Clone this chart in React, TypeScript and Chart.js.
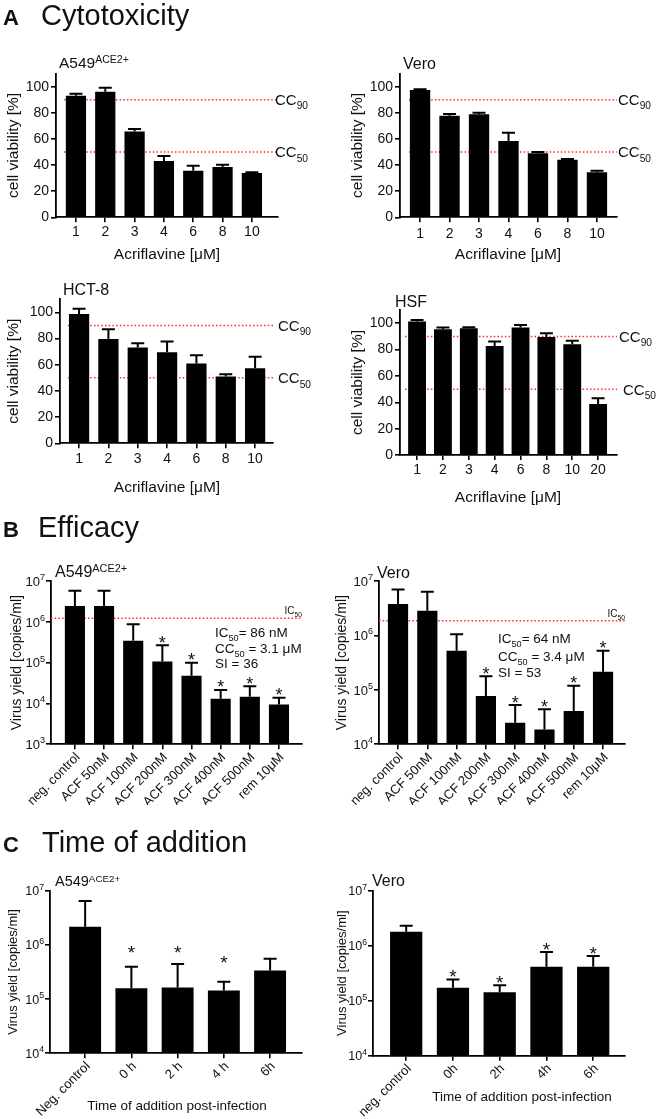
import React, { useEffect, useRef } from "react";
import { Chart, registerables } from "chart.js";

Chart.register(...registerables);

const FONT = '"Liberation Sans", Arial, Helvetica, sans-serif';
const INK = "#111111";
const RED = "#ff2b2b";

type Seg = [string, number]; // 0 normal, 1 subscript, 2 superscript

// ---------- A: Cytotoxicity ----------
const doseLabels = ["1", "2", "3", "4", "6", "8", "10"];
const doseLabelsHSF = ["1", "2", "3", "4", "6", "8", "10", "20"];
const viabTicks = [0, 20, 40, 60, 80, 100];

const viabA549 = [93.1, 96.2, 65.6, 43.1, 35.7, 38.5, 33.9];
const sdA549 = [1.5, 3.0, 2.0, 3.8, 3.8, 1.8, 0.5];
const viabVero = [97.4, 77.8, 78.8, 58.4, 49.0, 44.1, 34.4];
const sdVero = [0.6, 1.2, 1.3, 6.4, 1.0, 0.5, 1.3];
const viabHCT8 = [98.7, 79.6, 73.2, 69.6, 61.0, 51.0, 57.4];
const sdHCT8 = [4.1, 7.6, 3.3, 8.2, 6.3, 1.8, 8.7];
const viabHSF = [101.3, 95.4, 96.2, 82.8, 96.7, 89.6, 84.0, 38.7];
const sdHSF = [1.2, 1.3, 0.8, 3.3, 2.0, 2.8, 2.8, 4.3];
const cc90 = 90;
const cc50 = 50;

// ---------- B: Efficacy ----------
const efficacyLabels = ["neg. control", "ACF 50nM", "ACF 100nM", "ACF 200nM", "ACF 300nM", "ACF 400nM", "ACF 500nM", "rem 10μM"];
const logTicks3to7 = [1e3, 1e4, 1e5, 1e6, 1e7];
const logTicks4to7 = [1e4, 1e5, 1e6, 1e7];

const yieldA549 = [2.44e6, 2.44e6, 3.46e5, 1.06e5, 4.8e4, 1.31e4, 1.47e4, 9.5e3];
const yieldA549Upper = [5.8e6, 5.8e6, 8.7e5, 2.66e5, 1.0e5, 2.14e4, 2.63e4, 1.39e4];
const sigA549 = [false, false, false, true, true, true, true, true];
const ic50A549 = 1.22e6;
const statsA549: Seg[][] = [
  [["IC", 0], ["50", 1], ["= 86 nM", 0]],
  [["CC", 0], ["50", 1], [" = 3.1 μM", 0]],
  [["SI = 36", 0]],
];

const yieldVero = [3.78e6, 2.85e6, 5.25e5, 7.7e4, 2.5e4, 1.88e4, 4.09e4, 2.16e5];
const yieldVeroUpper = [7.0e6, 6.37e6, 1.05e6, 1.77e5, 5.27e4, 4.4e4, 1.19e5, 5.25e5];
const sigVero = [false, false, false, true, true, true, true, true];
const ic50Vero = 1.87e6;
const statsVero: Seg[][] = [
  [["IC", 0], ["50", 1], ["= 64 nM", 0]],
  [["CC", 0], ["50", 1], [" = 3.4 μM", 0]],
  [["SI = 53", 0]],
];

// ---------- C: Time of addition ----------
const timeLabelsA549 = ["Neg. control", "0 h", "2 h", "4 h", "6h"];
const timeYieldA549 = [2.17e6, 1.58e5, 1.63e5, 1.44e5, 3.37e5];
const timeYieldA549Upper = [6.45e6, 3.97e5, 4.44e5, 2.1e5, 5.57e5];
const timeStarsA549 = [null, 8.4e5, 8.4e5, 5.5e5, null];

const timeLabelsVero = ["neg. control", "0h", "2h", "4h", "6h"];
const timeYieldVero = [1.8e6, 1.72e5, 1.42e5, 4.15e5, 4.15e5];
const timeYieldVeroUpper = [2.31e6, 2.44e5, 1.9e5, 7.67e5, 6.49e5];
const sigTimeVero = [false, true, true, true, true];

// ---------- panel descriptions ----------
interface Ref { value: number; label: Seg[]; labelX: number; kind: "cc" | "ic" }
interface Panel {
  box: number[]; plot: number[]; xRange: number[];
  labels: string[]; values: number[]; upper: number[];
  log: boolean; yRange: number[]; yTicks: number[];
  title: Seg[]; titleAt: number[]; titleSize: number;
  yTitle: string; yTitleX: number; yTitleSize: number;
  xTitle?: string; xTitleAt?: number[]; xTitleSize?: number;
  refs: Ref[]; refInset: number;
  sig?: boolean[]; stars?: (number | null)[]; starSize?: number;
  stats?: Seg[][]; statsX?: number; statsBase?: number[];
  header?: { letter: string; text: string; base: number; letterX: number; textX: number };
  rotated: boolean; xTickSize: number; yTickSize: number; xTickPad?: number;
}

const ccRefs = (x90: number, x50: number): Ref[] => [
  { value: cc90, label: [["CC", 0], ["90", 1]], labelX: x90, kind: "cc" },
  { value: cc50, label: [["CC", 0], ["50", 1]], labelX: x50, kind: "cc" },
];
const addSd = (v: number[], sd: number[]) => v.map((x, i) => x + sd[i]);
const a549Title: Seg[] = [["A549", 0], ["ACE2+", 2]];

const panels: Panel[] = [
  {
    box: [0, 0, 330, 268], plot: [56, 73.6, 278, 217.3], xRange: [-0.68, 6.89],
    labels: doseLabels, values: viabA549, upper: addSd(viabA549, sdA549),
    log: false, yRange: [0, 110], yTicks: viabTicks,
    title: a549Title, titleAt: [59, 68], titleSize: 15.5,
    yTitle: "cell viability [%]", yTitleX: 14, yTitleSize: 15.5,
    xTitle: "Acriflavine [μM]", xTitleAt: [167, 258.5], xTitleSize: 15.5,
    refs: ccRefs(275, 275), refInset: 8,
    header: { letter: "A", text: "Cytotoxicity", base: 25, letterX: 3, textX: 41 },
    rotated: false, xTickSize: 14, yTickSize: 14, xTickPad: 1,
  },
  {
    box: [330, 0, 330, 268], plot: [400, 73.6, 617, 217.3], xRange: [-0.68, 6.68],
    labels: doseLabels, values: viabVero, upper: addSd(viabVero, sdVero),
    log: false, yRange: [0, 110], yTicks: viabTicks,
    title: [["Vero", 0]], titleAt: [403, 69], titleSize: 16,
    yTitle: "cell viability [%]", yTitleX: 358, yTitleSize: 15.5,
    xTitle: "Acriflavine [μM]", xTitleAt: [508, 258.5], xTitleSize: 15.5,
    refs: ccRefs(618, 618), refInset: 9,
    rotated: false, xTickSize: 14, yTickSize: 14, xTickPad: 3,
  },
  {
    box: [0, 268, 330, 240], plot: [60, 299.3, 273, 443.3], xRange: [-0.65, 6.61],
    labels: doseLabels, values: viabHCT8, upper: addSd(viabHCT8, sdHCT8),
    log: false, yRange: [0, 110], yTicks: viabTicks,
    title: [["HCT-8", 0]], titleAt: [63, 295], titleSize: 16,
    yTitle: "cell viability [%]", yTitleX: 14, yTitleSize: 15.5,
    xTitle: "Acriflavine [μM]", xTitleAt: [167, 491.5], xTitleSize: 15.5,
    refs: ccRefs(278, 278), refInset: 8,
    rotated: false, xTickSize: 14, yTickSize: 14, xTickPad: 2,
  },
  {
    box: [330, 268, 330, 240], plot: [400, 310.1, 617, 455], xRange: [-0.66, 7.73],
    labels: doseLabelsHSF, values: viabHSF, upper: addSd(viabHSF, sdHSF),
    log: false, yRange: [0, 110], yTicks: viabTicks,
    title: [["HSF", 0]], titleAt: [395, 306.5], titleSize: 16,
    yTitle: "cell viability [%]", yTitleX: 358, yTitleSize: 15.5,
    xTitle: "Acriflavine [μM]", xTitleAt: [508, 501.5], xTitleSize: 15.5,
    refs: ccRefs(619, 623), refInset: 5,
    rotated: false, xTickSize: 14, yTickSize: 14, xTickPad: 2,
  },
  {
    box: [0, 505, 330, 300], plot: [51, 581, 302, 744.3], xRange: [-0.82, 7.79],
    labels: efficacyLabels, values: yieldA549, upper: yieldA549Upper,
    log: true, yRange: [1e3, 1e7], yTicks: logTicks3to7,
    title: a549Title, titleAt: [55, 577], titleSize: 16,
    yTitle: "Virus yield [copies/ml]", yTitleX: 17, yTitleSize: 14,
    refs: [{ value: ic50A549, label: [["IC", 0], ["50", 1]], labelX: 302, kind: "ic" }], refInset: 0,
    sig: sigA549, starSize: 18,
    stats: statsA549, statsX: 215, statsBase: [637, 653, 668],
    header: { letter: "B", text: "Efficacy", base: 537, letterX: 3, textX: 38 },
    rotated: true, xTickSize: 13, yTickSize: 13,
  },
  {
    box: [330, 505, 330, 300], plot: [379, 581, 625, 744.3], xRange: [-0.65, 7.75],
    labels: efficacyLabels, values: yieldVero, upper: yieldVeroUpper,
    log: true, yRange: [1e4, 1e7], yTicks: logTicks4to7,
    title: [["Vero", 0]], titleAt: [377, 578], titleSize: 16,
    yTitle: "Virus yield [copies/ml]", yTitleX: 342, yTitleSize: 14,
    refs: [{ value: ic50Vero, label: [["IC", 0], ["50", 1]], labelX: 625, kind: "ic" }], refInset: 0,
    sig: sigVero, starSize: 18,
    stats: statsVero, statsX: 498, statsBase: [643, 661, 677],
    rotated: true, xTickSize: 13, yTickSize: 13,
  },
  {
    box: [0, 815, 330, 304], plot: [50, 890.7, 302, 1053.3], xRange: [-0.76, 4.69],
    labels: timeLabelsA549, values: timeYieldA549, upper: timeYieldA549Upper,
    log: true, yRange: [1e4, 1e7], yTicks: logTicks4to7,
    title: a549Title, titleAt: [55, 886], titleSize: 14.5,
    yTitle: "Virus yield [copies/ml]", yTitleX: 13, yTitleSize: 13,
    xTitle: "Time of addition post-infection", xTitleAt: [177, 1110], xTitleSize: 13.5,
    refs: [], refInset: 0,
    stars: timeStarsA549, starSize: 19,
    header: { letter: "C", text: "Time of addition", base: 852, letterX: 3, textX: 42 },
    rotated: true, xTickSize: 13, yTickSize: 12.5,
  },
  {
    box: [330, 815, 330, 304], plot: [373, 890.7, 625, 1055.7], xRange: [-0.71, 4.68],
    labels: timeLabelsVero, values: timeYieldVero, upper: timeYieldVeroUpper,
    log: true, yRange: [1e4, 1e7], yTicks: logTicks4to7,
    title: [["Vero", 0]], titleAt: [372, 886], titleSize: 16,
    yTitle: "Virus yield [copies/ml]", yTitleX: 342, yTitleSize: 13,
    xTitle: "Time of addition post-infection", xTitleAt: [522, 1101], xTitleSize: 13.5,
    refs: [], refInset: 0,
    sig: sigTimeVero, starSize: 19,
    rotated: true, xTickSize: 13, yTickSize: 12.5,
  },
];

// ---------- drawing helpers ----------
function drawRich(ctx: CanvasRenderingContext2D, segs: Seg[], x: number, y: number, size: number, align: "left" | "right" | "center") {
  const parts = segs.map(([t, m]) => {
    const s = m === 0 ? size : size * 0.68;
    ctx.font = `${s}px ${FONT}`;
    return { t, m, s, w: ctx.measureText(t).width };
  });
  const total = parts.reduce((a, p) => a + p.w, 0);
  let cx = align === "left" ? x : align === "right" ? x - total : x - total / 2;
  ctx.textAlign = "left";
  ctx.textBaseline = "alphabetic";
  for (const p of parts) {
    ctx.font = `${p.s}px ${FONT}`;
    const dy = p.m === 1 ? size * 0.29 : p.m === 2 ? -size * 0.3 : 0;
    ctx.fillText(p.t, cx, y + dy);
    cx += p.w;
  }
}

function makePlugin(p: Panel) {
  const ox = p.box[0];
  const oy = p.box[1];
  return {
    id: "panelDecor",
    beforeDatasetsDraw(chart: any) {
      const ctx: CanvasRenderingContext2D = chart.ctx;
      const ys = chart.scales.y;
      const ca = chart.chartArea;
      ctx.save();
      ctx.strokeStyle = RED;
      ctx.lineWidth = 1.5;
      ctx.setLineDash([1.5, 2.2]);
      for (const r of p.refs) {
        const yy = ys.getPixelForValue(r.value);
        ctx.beginPath();
        ctx.moveTo(ca.left + p.refInset, yy);
        ctx.lineTo(ca.right, yy);
        ctx.stroke();
      }
      ctx.restore();
    },
    afterDatasetsDraw(chart: any) {
      const ctx: CanvasRenderingContext2D = chart.ctx;
      const xs = chart.scales.x;
      const ys = chart.scales.y;
      ctx.save();
      ctx.strokeStyle = "#000";
      ctx.lineWidth = 2;
      ctx.fillStyle = INK;
      p.values.forEach((v, i) => {
        const x = xs.getPixelForValue(i);
        const y0 = ys.getPixelForValue(v);
        const y1 = ys.getPixelForValue(p.upper[i]);
        ctx.beginPath();
        ctx.moveTo(x, y0);
        ctx.lineTo(x, y1);
        ctx.moveTo(x - 6.5, y1);
        ctx.lineTo(x + 6.5, y1);
        ctx.stroke();
        ctx.font = `${p.starSize || 17}px ${FONT}`;
        ctx.textAlign = "center";
        ctx.textBaseline = "alphabetic";
        if (p.sig && p.sig[i]) ctx.fillText("*", x, y1 + 3.5);
        if (p.stars && p.stars[i] != null) ctx.fillText("*", x, ys.getPixelForValue(p.stars[i] as number) + 10);
      });
      ctx.restore();
    },
    afterDraw(chart: any) {
      const ctx: CanvasRenderingContext2D = chart.ctx;
      const xs = chart.scales.x;
      const ys = chart.scales.y;
      const ca = chart.chartArea;
      ctx.save();
      ctx.fillStyle = INK;
      // section header
      if (p.header) {
        ctx.textAlign = "left";
        ctx.textBaseline = "alphabetic";
        ctx.font = `bold 22px ${FONT}`;
        ctx.fillText(p.header.letter, p.header.letterX - ox, p.header.base - oy);
        ctx.font = `29px ${FONT}`;
        ctx.fillText(p.header.text, p.header.textX - ox, p.header.base - oy);
      }
      // panel title
      drawRich(ctx, p.title, p.titleAt[0] - ox, p.titleAt[1] - oy, p.titleSize, "left");
      // y title
      ctx.save();
      ctx.translate(p.yTitleX - ox, (ca.top + ca.bottom) / 2);
      ctx.rotate(-Math.PI / 2);
      ctx.font = `${p.yTitleSize}px ${FONT}`;
      ctx.textAlign = "center";
      ctx.textBaseline = "middle";
      ctx.fillText(p.yTitle, 0, 0);
      ctx.restore();
      // x title
      if (p.xTitle && p.xTitleAt) {
        ctx.font = `${p.xTitleSize}px ${FONT}`;
        ctx.textAlign = "center";
        ctx.textBaseline = "alphabetic";
        ctx.fillText(p.xTitle, p.xTitleAt[0] - ox, p.xTitleAt[1] - oy);
      }
      // log tick labels with superscript exponents
      if (p.log) {
        for (const v of p.yTicks) {
          const y = ys.getPixelForValue(v);
          const e = String(Math.round(Math.log10(v)));
          const right = ca.left - 6;
          ctx.textAlign = "right";
          ctx.textBaseline = "alphabetic";
          ctx.font = `${p.yTickSize * 0.7}px ${FONT}`;
          const ew = ctx.measureText(e).width;
          ctx.fillText(e, right, y - 1);
          ctx.font = `${p.yTickSize}px ${FONT}`;
          ctx.fillText("10", right - ew, y + p.yTickSize * 0.36);
        }
      }
      // rotated category labels
      if (p.rotated) {
        ctx.font = `${p.xTickSize}px ${FONT}`;
        ctx.textAlign = "right";
        ctx.textBaseline = "middle";
        p.labels.forEach((lab, i) => {
          const x = xs.getPixelForValue(i);
          ctx.save();
          ctx.translate(x + 3, ca.bottom + 11);
          ctx.rotate(-Math.PI / 4);
          ctx.fillText(lab, 0, 0);
          ctx.restore();
        });
      }
      // reference line labels
      for (const r of p.refs) {
        const yy = ys.getPixelForValue(r.value);
        if (r.kind === "cc") drawRich(ctx, r.label, r.labelX - ox, yy + 5.4, 15, "left");
        else drawRich(ctx, r.label, r.labelX - ox, yy - 4, 10, "right");
      }
      // statistics text
      if (p.stats && p.statsBase && p.statsX != null) {
        p.stats.forEach((line, k) => drawRich(ctx, line, (p.statsX as number) - ox, (p.statsBase as number[])[k] - oy, 13.5, "left"));
      }
      ctx.restore();
    },
  };
}

function buildConfig(p: Panel): any {
  const [bx, by, bw, bh] = p.box;
  const [pl, pt, pr, pb] = p.plot;
  const axisGrid = { display: true, drawOnChartArea: false, drawTicks: true, tickLength: 5, color: "#000", lineWidth: 1.6, offset: false };
  const axisBorder = { display: true, color: "#000", width: 1.8 };
  return {
    type: "bar",
    data: {
      datasets: [
        {
          data: p.values.map((v, i) => ({ x: i, y: v })),
          backgroundColor: "#000",
          borderWidth: 0,
          barPercentage: 0.69,
          categoryPercentage: 1,
        },
      ],
    },
    options: {
      animation: false,
      responsive: false,
      maintainAspectRatio: false,
      events: [],
      layout: { padding: { left: 0, top: pt - by, right: bx + bw - pr, bottom: 0 } },
      plugins: { legend: { display: false }, tooltip: { enabled: false }, title: { display: false } },
      scales: {
        x: {
          type: "linear",
          min: p.xRange[0],
          max: p.xRange[1],
          offset: false,
          afterBuildTicks: (s: any) => { s.ticks = p.labels.map((_, i) => ({ value: i })); },
          afterFit: (s: any) => { s.height = by + bh - pb; },
          grid: axisGrid,
          border: axisBorder,
          ticks: {
            display: !p.rotated,
            autoSkip: false,
            maxRotation: 0,
            minRotation: 0,
            padding: p.xTickPad ?? 2,
            color: INK,
            font: { family: FONT, size: p.xTickSize },
            callback: (_v: any, i: number) => p.labels[i],
          },
        },
        y: {
          type: p.log ? "logarithmic" : "linear",
          min: p.yRange[0],
          max: p.yRange[1],
          afterBuildTicks: (s: any) => { s.ticks = p.yTicks.map((v) => ({ value: v })); },
          afterFit: (s: any) => { s.width = pl - bx; },
          grid: axisGrid,
          border: axisBorder,
          ticks: {
            display: !p.log,
            padding: 2,
            color: INK,
            font: { family: FONT, size: p.yTickSize },
            callback: (v: any) => String(v),
          },
        },
      },
    },
    plugins: [makePlugin(p)],
  };
}

function PanelChart({ p }: { p: Panel }) {
  const ref = useRef<HTMLCanvasElement>(null);
  useEffect(() => {
    const chart = new Chart(ref.current as HTMLCanvasElement, buildConfig(p));
    return () => chart.destroy();
  }, [p]);
  const [x, y, w, h] = p.box;
  return (
    <canvas
      ref={ref}
      width={w}
      height={h}
      style={{ position: "absolute", left: x, top: y, width: w, height: h }}
    />
  );
}

export default function App() {
  return (
    <div style={{ position: "absolute", left: 0, top: 0, width: 660, height: 1119, background: "#fff", overflow: "hidden" }}>
      {panels.map((p, i) => (
        <PanelChart key={i} p={p} />
      ))}
    </div>
  );
}
